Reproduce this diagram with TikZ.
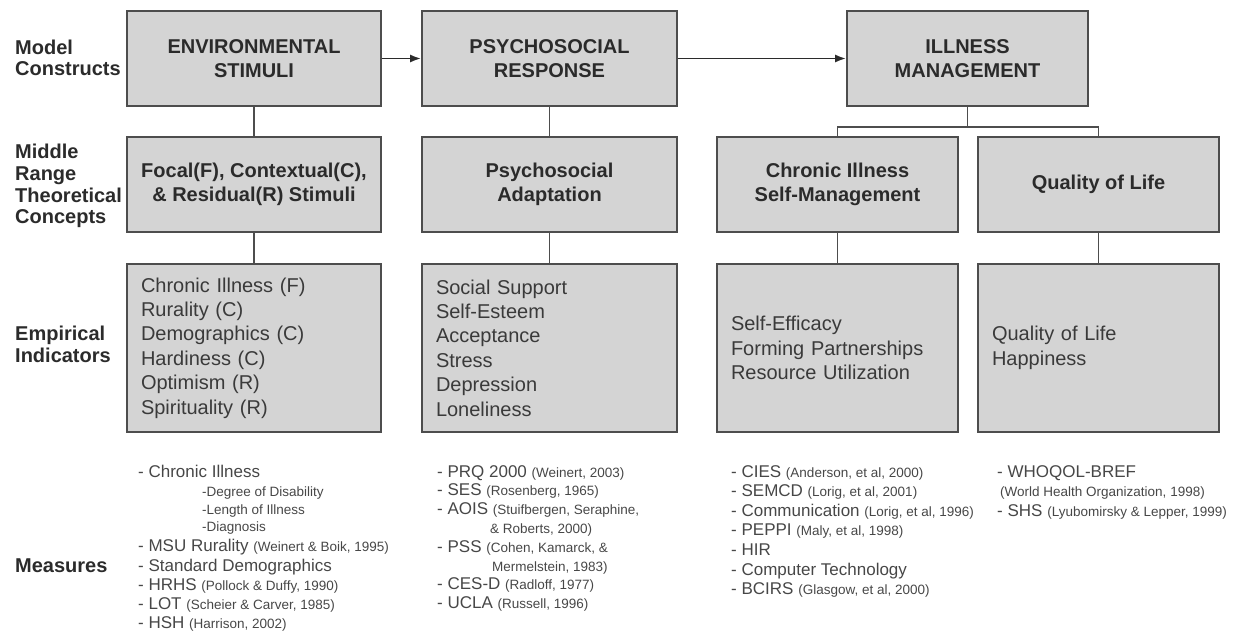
\documentclass[tikz,border=0pt]{standalone}
\usepackage{fontspec}
\setmainfont{Liberation Sans}
\usepackage{xcolor}
\usepackage{tikz}
\usetikzlibrary{arrows.meta,positioning}
\definecolor{roygray}{HTML}{4D4D4D}
\definecolor{roylight}{HTML}{D4D4D4}
\definecolor{roytext}{HTML}{2B2B2B}
\definecolor{roybody}{HTML}{3A3A3A}
\definecolor{roymeas}{HTML}{474747}
\newcommand{\rf}[1]{{\fontsize{13.5}{16}\selectfont #1}}
\newcommand{\sub}[1]{\hspace*{64pt}{\fontsize{13.5}{16}\selectfont #1}}

\begin{document}
\begin{tikzpicture}[
    x=1pt, y=-1pt,
    modelbox/.style={draw=roygray, line width=1.8pt, fill=roylight, inner sep=0pt, minimum width=254pt, minimum height=95pt, align=center, text=roytext, font=\fontsize{20}{24}\selectfont\bfseries},
    indbox/.style={draw=roygray, line width=1.8pt, fill=roylight, inner xsep=14pt, inner ysep=0pt, text width=226pt, minimum height=168pt, align=left, text=roybody, font=\fontsize{20}{24.4}\selectfont},
    rowlabel/.style={anchor=west, align=left, inner sep=0pt, text=roytext, font=\fontsize{20}{21.7}\selectfont\bfseries},
    measures/.style={anchor=north west, align=left, inner sep=0pt, text=roymeas, font=\fontsize{17}{19.6}\selectfont},
    arrow/.style={-{Latex[length=11pt, width=8pt]}, line width=1.8pt, draw=roytext},
    link/.style={line width=1.6pt, draw=roygray}
  ]
    \useasboundingbox (0,0) rectangle (1251,634);
    % row labels
    \node[rowlabel] (lblmodel) at (15,58) {Model\\Constructs};
    \node[rowlabel] (lblmiddle) at (15,186) {Middle\\Range\\Theoretical\\Concepts};
    \node[rowlabel] (lblemp) at (15,344) {Empirical\\Indicators};
    \node[rowlabel] (lblmeas) at (15,566) {Measures};
    % model constructs
    \node[modelbox] (env) at (254,58.5) {ENVIRONMENTAL\\STIMULI};
    \node[modelbox, minimum width=255pt] (psy) at (549.5,58.5) {PSYCHOSOCIAL\\RESPONSE};
    \node[modelbox, minimum width=241pt] (ill) at (967.5,58.5) {ILLNESS\\MANAGEMENT};
    % middle range concepts
    \node[modelbox] (envcon) at (254,184.5) {Focal(F), Contextual(C),\\\& Residual(R) Stimuli};
    \node[modelbox, minimum width=255pt] (psycon) at (549.5,184.5) {Psychosocial\\Adaptation};
    \node[modelbox, minimum width=241pt] (cismcon) at (837.5,184.5) {Chronic Illness\\Self-Management};
    \node[modelbox, minimum width=241pt] (qolcon) at (1098.5,184.5) {Quality of Life};
    % empirical indicators
    \node[indbox] (envind) at (254,348) {Chronic Illness (F)\\Rurality (C)\\Demographics (C)\\Hardiness (C)\\Optimism (R)\\Spirituality (R)};
    \node[indbox, text width=227pt] (psyind) at (549.5,348) {Social Support\\Self-Esteem\\Acceptance\\Stress\\Depression\\Loneliness};
    \node[indbox, text width=213pt] (cismind) at (837.5,348) {Self-Efficacy\\Forming Partnerships\\Resource Utilization};
    \node[indbox, text width=213pt] (qolind) at (1098.5,348) {Quality of Life\\Happiness};
    % measures
    \node[measures, font=\fontsize{17}{19.3}\selectfont] (envmeas) at (138,465) {- Chronic Illness\\
      \sub{-Degree of Disability}\\[-2pt]
      \sub{-Length of Illness}\\[-2pt]
      \sub{-Diagnosis}\\[1pt]
      - MSU Rurality \rf{(Weinert \& Boik, 1995)}\\
      - Standard Demographics\\
      - HRHS \rf{(Pollock \& Duffy, 1990)}\\
      - LOT \rf{(Scheier \& Carver, 1985)}\\
      - HSH \rf{(Harrison, 2002)}};
    \node[measures, font=\fontsize{17}{18.8}\selectfont] (psymeas) at (437,465) {- PRQ 2000 \rf{(Weinert, 2003)}\\
      - SES \rf{(Rosenberg, 1965)}\\
      - AOIS \rf{(Stuifbergen, Seraphine,}\\
      \hspace*{53pt}\rf{\& Roberts, 2000)}\\
      - PSS \rf{(Cohen, Kamarck, \&}\\
      \hspace*{55pt}\rf{Mermelstein, 1983)}\\
      - CES-D \rf{(Radloff, 1977)}\\
      - UCLA \rf{(Russell, 1996)}};
    \node[measures] (cismmeas) at (731,465) {- CIES \rf{(Anderson, et al, 2000)}\\
      - SEMCD \rf{(Lorig, et al, 2001)}\\
      - Communication \rf{(Lorig, et al, 1996)}\\
      - PEPPI \rf{(Maly, et al, 1998)}\\
      - HIR\\
      - Computer Technology\\
      - BCIRS \rf{(Glasgow, et al, 2000)}};
    \node[measures] (qolmeas) at (997,465) {- WHOQOL-BREF\\
      \hspace*{3pt}\rf{(World Health Organization, 1998)}\\
      - SHS \rf{(Lyubomirsky \& Lepper, 1999)}};
    % connectors
    \draw[arrow] (env) -- (psy);
    \draw[arrow] (psy) -- (ill);
    \draw[link] (env) -- (envcon);
    \draw[link] (envcon) -- (envind);
    \draw[link] (psy) -- (psycon);
    \draw[link] (psycon) -- (psyind);
    \draw[link] (ill.south) -- ++(0,20) coordinate (split) -| (cismcon.north);
    \draw[link] (split) -| (qolcon.north);
    \draw[link] (cismcon) -- (cismind);
    \draw[link] (qolcon) -- (qolind);
  \end{tikzpicture}
\end{document}
